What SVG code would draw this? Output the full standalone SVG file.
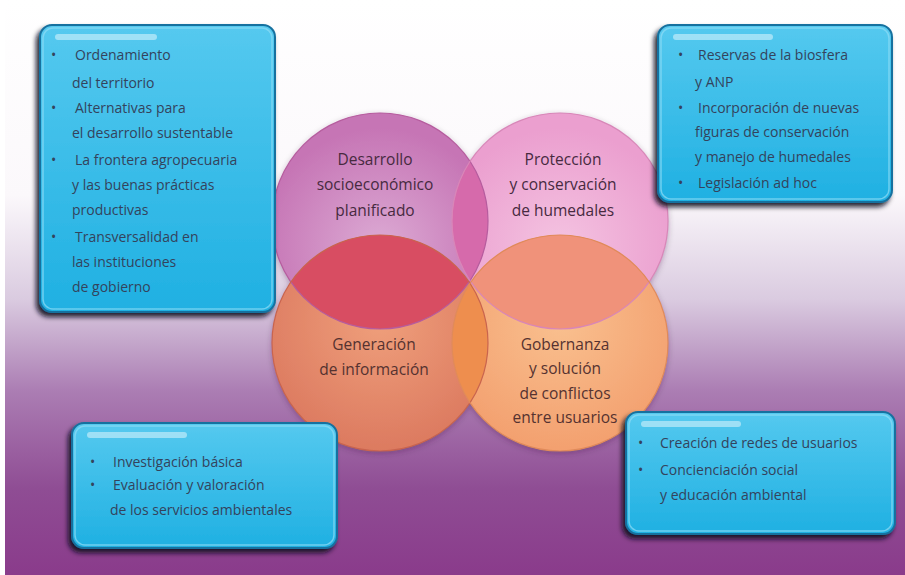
<svg xmlns="http://www.w3.org/2000/svg" width="905" height="575" viewBox="0 0 905 575">
  <style>
    .box { stroke: #16719f; stroke-width: 2; filter: url(#boxShadow); }
    .inner { fill: none; stroke: #8fdcf5; stroke-width: 1.5; opacity: 0.7; }
    .shine { fill: #ffffff; opacity: 0.45; }
    .btxt { font-family: "Open Sans", "Noto Sans", sans-serif; font-size: 14px; fill: #34435c; }
    .ctxt { font-family: "Open Sans", "Noto Sans", sans-serif; font-size: 15.5px; text-anchor: middle; }
    .top { fill: #472a3f; }
    .bot { fill: #553230; }
    .ring { fill: none; stroke-width: 1.2; }
  </style>
  <defs>
    <linearGradient id="bg" x1="0" y1="0" x2="0" y2="1">
      <stop offset="0" stop-color="#ffffff"/>
      <stop offset="0.34" stop-color="#fbf8fb"/>
      <stop offset="0.52" stop-color="#dacbe0"/>
      <stop offset="0.68" stop-color="#ab7db3"/>
      <stop offset="0.85" stop-color="#8f4d94"/>
      <stop offset="1" stop-color="#8a3b8b"/>
    </linearGradient>
    <linearGradient id="boxFill" x1="0" y1="0" x2="0" y2="1">
      <stop offset="0" stop-color="#55c9ef"/>
      <stop offset="1" stop-color="#1fb0e2"/>
    </linearGradient>
    <filter id="boxShadow" x="-10%" y="-10%" width="120%" height="125%">
      <feDropShadow dx="-3" dy="4" stdDeviation="2.5" flood-color="#10101a" flood-opacity="0.9"/>
    </filter>
    <filter id="ballShadow" x="-10%" y="-10%" width="120%" height="120%">
      <feDropShadow dx="0" dy="2" stdDeviation="3" flood-color="#3a1a3a" flood-opacity="0.35"/>
    </filter>
    <radialGradient id="gTL" cx="0.5" cy="0.62" r="0.55">
      <stop offset="0" stop-color="#dcaad4"/>
      <stop offset="1" stop-color="#c675b5"/>
    </radialGradient>
    <radialGradient id="gTR" cx="0.5" cy="0.62" r="0.55">
      <stop offset="0" stop-color="#f4c3e1"/>
      <stop offset="1" stop-color="#eb9fcf"/>
    </radialGradient>
    <radialGradient id="gBL" cx="0.5" cy="0.4" r="0.6">
      <stop offset="0" stop-color="#ef9f7b"/>
      <stop offset="1" stop-color="#dc7a60"/>
    </radialGradient>
    <radialGradient id="gBR" cx="0.5" cy="0.4" r="0.6">
      <stop offset="0" stop-color="#f9c08f"/>
      <stop offset="1" stop-color="#f3a06f"/>
    </radialGradient>
    <clipPath id="cTL"><circle cx="380" cy="221" r="108"/></clipPath>
    <clipPath id="cTR"><circle cx="560" cy="221" r="108"/></clipPath>
    <clipPath id="cBL"><circle cx="380" cy="343" r="108"/></clipPath>
    <clipPath id="cBR"><circle cx="560" cy="343" r="108"/></clipPath>
  </defs>

  <!-- backdrop -->
  <rect x="0" y="0" width="905" height="575" fill="#ffffff"/>
  <rect x="5" y="0" width="900" height="575" fill="url(#bg)"/>

  <!-- four overlapping discs -->
  <g id="discs" filter="url(#ballShadow)">
    <circle cx="380" cy="221" r="108" fill="url(#gTL)"/>
    <circle cx="560" cy="221" r="108" fill="url(#gTR)"/>
    <circle cx="380" cy="343" r="108" fill="url(#gBL)"/>
    <circle cx="560" cy="343" r="108" fill="url(#gBR)"/>
  </g>
  <!-- overlaps -->
  <g id="overlaps">
    <circle cx="560" cy="221" r="108" fill="#d66aab" clip-path="url(#cTL)"/>
    <circle cx="380" cy="343" r="108" fill="#d84d62" clip-path="url(#cTL)"/>
    <circle cx="560" cy="343" r="108" fill="#f0927a" clip-path="url(#cTR)"/>
    <circle cx="560" cy="343" r="108" fill="#ee8e4e" clip-path="url(#cBL)"/>
    <g clip-path="url(#cTL)">
      <circle cx="560" cy="343" r="108" fill="#e8745a" clip-path="url(#cBL)"/>
    </g>
  </g>
  <g id="rims">
    <circle class="ring" cx="380" cy="221" r="108" stroke="#b65c9e"/>
    <circle class="ring" cx="560" cy="221" r="108" stroke="#d886b8"/>
    <circle class="ring" cx="380" cy="343" r="108" stroke="#c9644e"/>
    <circle class="ring" cx="560" cy="343" r="108" stroke="#e08a5a"/>
  </g>

  <g id="node-desarrollo">
    <text class="ctxt top" x="375" y="165">Desarrollo</text>
    <text class="ctxt top" x="375" y="190">socioeconómico</text>
    <text class="ctxt top" x="375" y="216">planificado</text>
  </g>
  <g id="node-proteccion">
    <text class="ctxt top" x="563" y="165">Protección</text>
    <text class="ctxt top" x="563" y="190">y conservación</text>
    <text class="ctxt top" x="563" y="216">de humedales</text>
  </g>
  <g id="node-generacion">
    <text class="ctxt bot" x="374" y="350">Generación</text>
    <text class="ctxt bot" x="374" y="375">de información</text>
  </g>
  <g id="node-gobernanza">
    <text class="ctxt bot" x="565" y="350">Gobernanza</text>
    <text class="ctxt bot" x="565" y="374">y solución</text>
    <text class="ctxt bot" x="565" y="399">de conflictos</text>
    <text class="ctxt bot" x="565" y="423">entre usuarios</text>
  </g>

  <!-- text panels -->
  <g id="panel-desarrollo">
    <rect class="box" x="40" y="25" width="235" height="287" rx="12" fill="url(#boxFill)"/>
    <rect class="inner" x="43" y="28" width="229" height="281" rx="10"/>
    <rect class="shine" x="55" y="34" width="102" height="6" rx="3"/>
    <text class="btxt" x="51" y="60">•</text>
    <text class="btxt" x="75" y="60">Ordenamiento</text>
    <text class="btxt" x="72" y="88">del territorio</text>
    <text class="btxt" x="51" y="113">•</text>
    <text class="btxt" x="75" y="113">Alternativas para</text>
    <text class="btxt" x="72" y="138">el desarrollo sustentable</text>
    <text class="btxt" x="51" y="165">•</text>
    <text class="btxt" x="75" y="165">La frontera agropecuaria</text>
    <text class="btxt" x="72" y="190">y las buenas prácticas</text>
    <text class="btxt" x="72" y="215">productivas</text>
    <text class="btxt" x="51" y="242">•</text>
    <text class="btxt" x="75" y="242">Transversalidad en</text>
    <text class="btxt" x="72" y="267">las instituciones</text>
    <text class="btxt" x="72" y="292">de gobierno</text>
  </g>
  <g id="panel-proteccion">
    <rect class="box" x="658" y="25" width="234" height="177" rx="12" fill="url(#boxFill)"/>
    <rect class="inner" x="661" y="28" width="228" height="171" rx="10"/>
    <rect class="shine" x="673" y="34" width="100" height="6" rx="3"/>
    <text class="btxt" x="678" y="60">•</text>
    <text class="btxt" x="698" y="60">Reservas de la biosfera</text>
    <text class="btxt" x="695" y="87">y ANP</text>
    <text class="btxt" x="678" y="113">•</text>
    <text class="btxt" x="698" y="113">Incorporación de nuevas</text>
    <text class="btxt" x="695" y="137">figuras de conservación</text>
    <text class="btxt" x="695" y="162">y manejo de humedales</text>
    <text class="btxt" x="678" y="188">•</text>
    <text class="btxt" x="698" y="188">Legislación ad hoc</text>
  </g>
  <g id="panel-generacion">
    <rect class="box" x="72" y="423" width="265" height="125" rx="12" fill="url(#boxFill)"/>
    <rect class="inner" x="75" y="426" width="259" height="119" rx="10"/>
    <rect class="shine" x="87" y="432" width="100" height="6" rx="3"/>
    <text class="btxt" x="90" y="467">•</text>
    <text class="btxt" x="113" y="467">Investigación básica</text>
    <text class="btxt" x="90" y="490">•</text>
    <text class="btxt" x="113" y="490">Evaluación y valoración</text>
    <text class="btxt" x="110" y="515">de los servicios ambientales</text>
  </g>
  <g id="panel-gobernanza">
    <rect class="box" x="626" y="412" width="269" height="122" rx="12" fill="url(#boxFill)"/>
    <rect class="inner" x="629" y="415" width="263" height="116" rx="10"/>
    <rect class="shine" x="641" y="421" width="100" height="6" rx="3"/>
    <text class="btxt" x="638" y="448">•</text>
    <text class="btxt" x="660" y="448">Creación de redes de usuarios</text>
    <text class="btxt" x="638" y="475">•</text>
    <text class="btxt" x="660" y="475">Concienciación social</text>
    <text class="btxt" x="660" y="500">y educación ambiental</text>
  </g>

  <!-- no connectors in this figure -->
  <g id="connectors"/>
</svg>
